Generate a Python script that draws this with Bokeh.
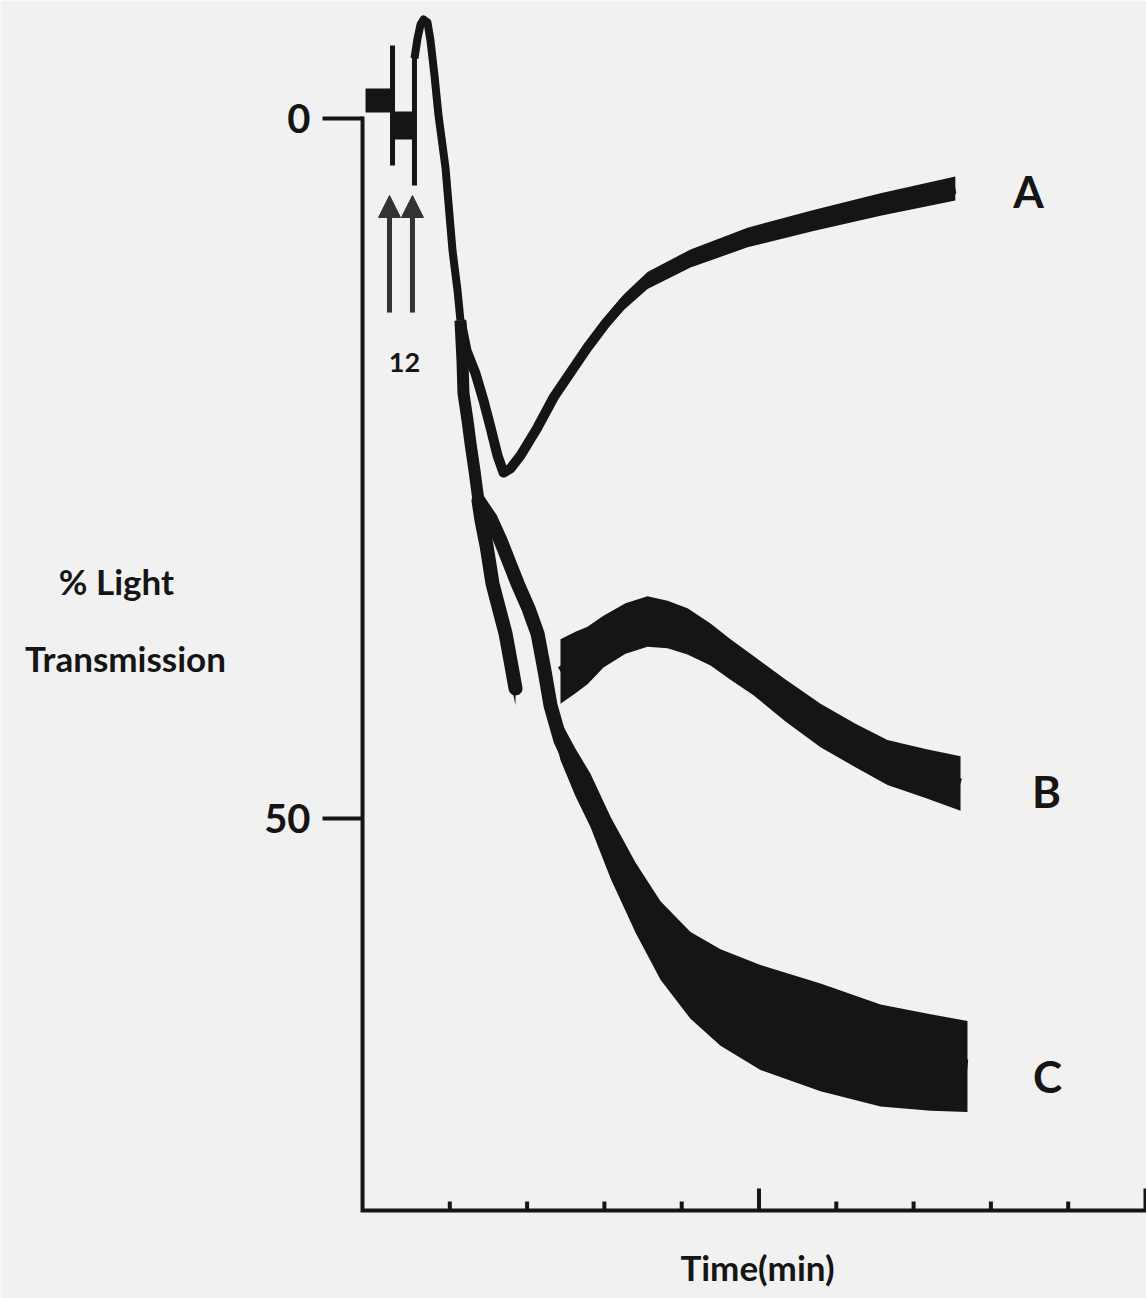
import numpy as np
from bokeh.plotting import figure
from bokeh.models import Range1d, Label, Arrow, NormalHead
from bokeh.embed import file_html
from bokeh.resources import INLINE

INK = "#151515"
BG = "#f1f1f1"
FONT = "Lato"

# ---- data: time (min) vs % light transmission (0 at top) ----
# pre-injection baseline noise blocks
pre_t = [[-0.09, 0.26], [0.27, 0.54]]
pre_v = [-1.29, 0.5]
pre_amp = [0.86, 1.0]

# injection artefacts (vertical pen strokes)
inj_t = [0.259, 0.543]
inj_top = [-5.21, -4.5]
inj_bot = [3.36, 4.79]

# arrows marking additions 1 and 2
arrow_t = [0.22, 0.517]

# common trace (all three overlap) up to the first split
common_t = [0.543, 0.582, 0.621, 0.660, 0.711, 0.750, 0.802, 0.854, 0.944, 1.035, 1.100, 1.138]
common_v = [-4.29, -5.71, -6.71, -7.07, -6.86, -5.57, -3.07, -0.21, 3.5, 9.43, 12.29, 14.43]

# trace A
a_t = [1.138, 1.216, 1.332, 1.436, 1.527, 1.617, 1.695, 1.785, 1.915, 2.135, 2.342, 2.561,
       2.781, 3.014, 3.247, 3.558, 4.114, 4.851, 5.705, 6.572, 7.54]
a_v = [14.43, 16.57, 18.21, 20.14, 22.07, 24.07, 25.29, 25.0, 24.07, 22.07, 19.93, 18.14,
       16.36, 14.64, 13.14, 11.57, 10.0, 8.5, 7.29, 6.14, 5.0]
a_amp = [0, 0, 0, 0, 0, 0, 0.1, 0.15, 0.2, 0.3, 0.35, 0.4, 0.45, 0.5, 0.55, 0.6, 0.65, 0.7,
         0.75, 0.8, 0.85]

# B and C together
bc_t = [1.138, 1.164, 1.177, 1.229, 1.268, 1.319, 1.371]
bc_v = [14.43, 17.29, 19.64, 21.57, 23.21, 25.14, 27.29]

# trace B, first part (before pen gap)
b1_t = [1.371, 1.410, 1.475, 1.552, 1.643, 1.721, 1.785, 1.850]
b1_v = [27.29, 28.71, 30.5, 33.21, 35.14, 36.79, 38.71, 40.71]
b1_amp = [0, 0.3, 0.6, 0.9, 1.2, 1.4, 1.5, 1.2]

# trace B, second part
b2_t = [2.432, 2.626, 2.781, 2.988, 3.273, 3.558, 3.816, 4.075, 4.373, 4.631, 4.929, 5.343,
        5.796, 6.248, 6.662, 7.154, 7.607]
b2_v = [39.5, 38.86, 38.36, 37.36, 36.43, 35.93, 36.14, 36.64, 37.57, 38.64, 39.79, 41.57,
        43.36, 44.79, 46.0, 46.79, 47.5]
b2_amp = [2.3, 2.2, 2.05, 1.85, 1.8, 1.8, 1.7, 1.65, 1.5, 1.45, 1.4, 1.5, 1.55, 1.55,
          1.6, 1.75, 1.95]

# trace C
c_t = [1.371, 1.527, 1.656, 1.759, 1.876, 2.018, 2.135, 2.225, 2.303, 2.432, 2.626, 2.820,
       3.079, 3.402, 3.726, 4.114, 4.502, 5.019, 5.796, 6.572, 7.219, 7.697]
c_v = [27.29, 28.57, 30.14, 31.57, 33.21, 35.0, 36.79, 39.43, 41.93, 44.43, 46.71, 48.71,
       52.07, 55.64, 58.71, 61.21, 62.79, 64.21, 65.64, 66.93, 67.43, 67.71]
c_amp = [0, 0, 0.1, 0.2, 0.3, 0.4, 0.5, 0.8, 1.1, 1.4, 1.7, 1.9, 2.2, 2.5, 2.8, 3.1, 3.45,
         3.75, 3.85, 3.65, 3.45, 3.25]

# axes
y_ticks = [0, 50]
y_tick_labels = ["0", "50"]
x_major = [5, 10]
x_minor = [1, 2, 3, 4, 6, 7, 8, 9]
x_axis_t = (-0.129, 10.013)
y_axis_v = (0, 78.0)

# pixel scale helpers (layout only): 77.3 px per minute, 14 px per % unit
PX_T = 1 / 77.3
PX_V = 1 / 14.0

p = figure(width=1146, height=1298,
           x_range=Range1d(-372 * PX_T, 774 * PX_T), y_range=Range1d(1180 * PX_V, -118 * PX_V),
           output_backend="svg", toolbar_location=None,
           x_axis_location=None, y_axis_location=None,
           min_border_left=0, min_border_right=0, min_border_top=0, min_border_bottom=0)
p.background_fill_color = BG
p.border_fill_color = BG
p.outline_line_color = None
p.grid.visible = False

# --- axis lines & ticks ---
ax0, ax1 = x_axis_t
p.line([ax0, ax0, ax1], [y_axis_v[0], y_axis_v[1], y_axis_v[1]], line_width=4,
       line_color=INK, line_join="miter", line_cap="square")
p.segment(x0=[ax0] * len(y_ticks), y0=y_ticks, x1=[ax0 - 40 * PX_T] * len(y_ticks), y1=y_ticks,
          line_width=4, line_color=INK)
p.segment(x0=x_major, y0=[y_axis_v[1]] * len(x_major), x1=x_major,
          y1=[y_axis_v[1] - 22 * PX_V] * len(x_major), line_width=4, line_color=INK)
p.segment(x0=x_minor, y0=[y_axis_v[1]] * len(x_minor), x1=x_minor,
          y1=[y_axis_v[1] - 9 * PX_V] * len(x_minor), line_width=4, line_color=INK)
for v, s in zip(y_ticks, y_tick_labels):
    p.add_layout(Label(x=ax0 - 52 * PX_T, y=v, text=s, text_align="right",
                       text_baseline="middle", text_font=FONT, text_font_size="40px",
                       text_font_style="bold", text_color=INK))


def band(t, v, amp, lw, cap="butt"):
    t = np.asarray(t, float)
    v = np.asarray(v, float)
    amp = np.asarray(amp, float)
    if amp.max() > 0:
        p.varea(x=t, y1=v - amp, y2=v + amp, fill_color=INK)
    p.line(t, v, line_width=lw, line_color=INK, line_join="round", line_cap=cap)


for tt, vv, aa in zip(pre_t, pre_v, pre_amp):
    p.varea(x=tt, y1=[vv - aa] * 2, y2=[vv + aa] * 2, fill_color=INK)

p.segment(x0=inj_t, y0=inj_top, x1=inj_t, y1=inj_bot, line_width=5, line_color=INK)

band(common_t, common_v, [0] * len(common_t), 8)
band(a_t, a_v, a_amp, 10)
band(bc_t, bc_v, [0] * len(bc_t), 12)
band(b1_t, b1_v, b1_amp, 14, cap="round")
band(b2_t, b2_v, b2_amp, 10)
band(c_t, c_v, c_amp, 14)

for at in arrow_t:
    p.add_layout(Arrow(end=NormalHead(size=22, fill_color="#333333", line_color="#333333"),
                       x_start=at, y_start=13.86, x_end=at, y_end=5.5,
                       line_width=5, line_color="#333333"))


def lab(x, y, text, size, align="center"):
    p.add_layout(Label(x=x, y=y, text=text, text_align=align, text_baseline="middle",
                       text_font=FONT, text_font_size=size, text_font_style="bold",
                       text_color=INK))


lab(0.414, 17.4, "12", "27px")
lab(8.486, 5.21, "A", "44px")
lab(8.719, 48.07, "B", "44px")
lab(8.732, 68.36, "C", "44px")
lab(-3.312, 33.0, "% Light", "35px")
lab(-3.195, 38.5, "Transmission", "35px")
lab(4.98, 82.0, "Time(min)", "35px")

open("out.html", "w").write(file_html(p, INLINE))
